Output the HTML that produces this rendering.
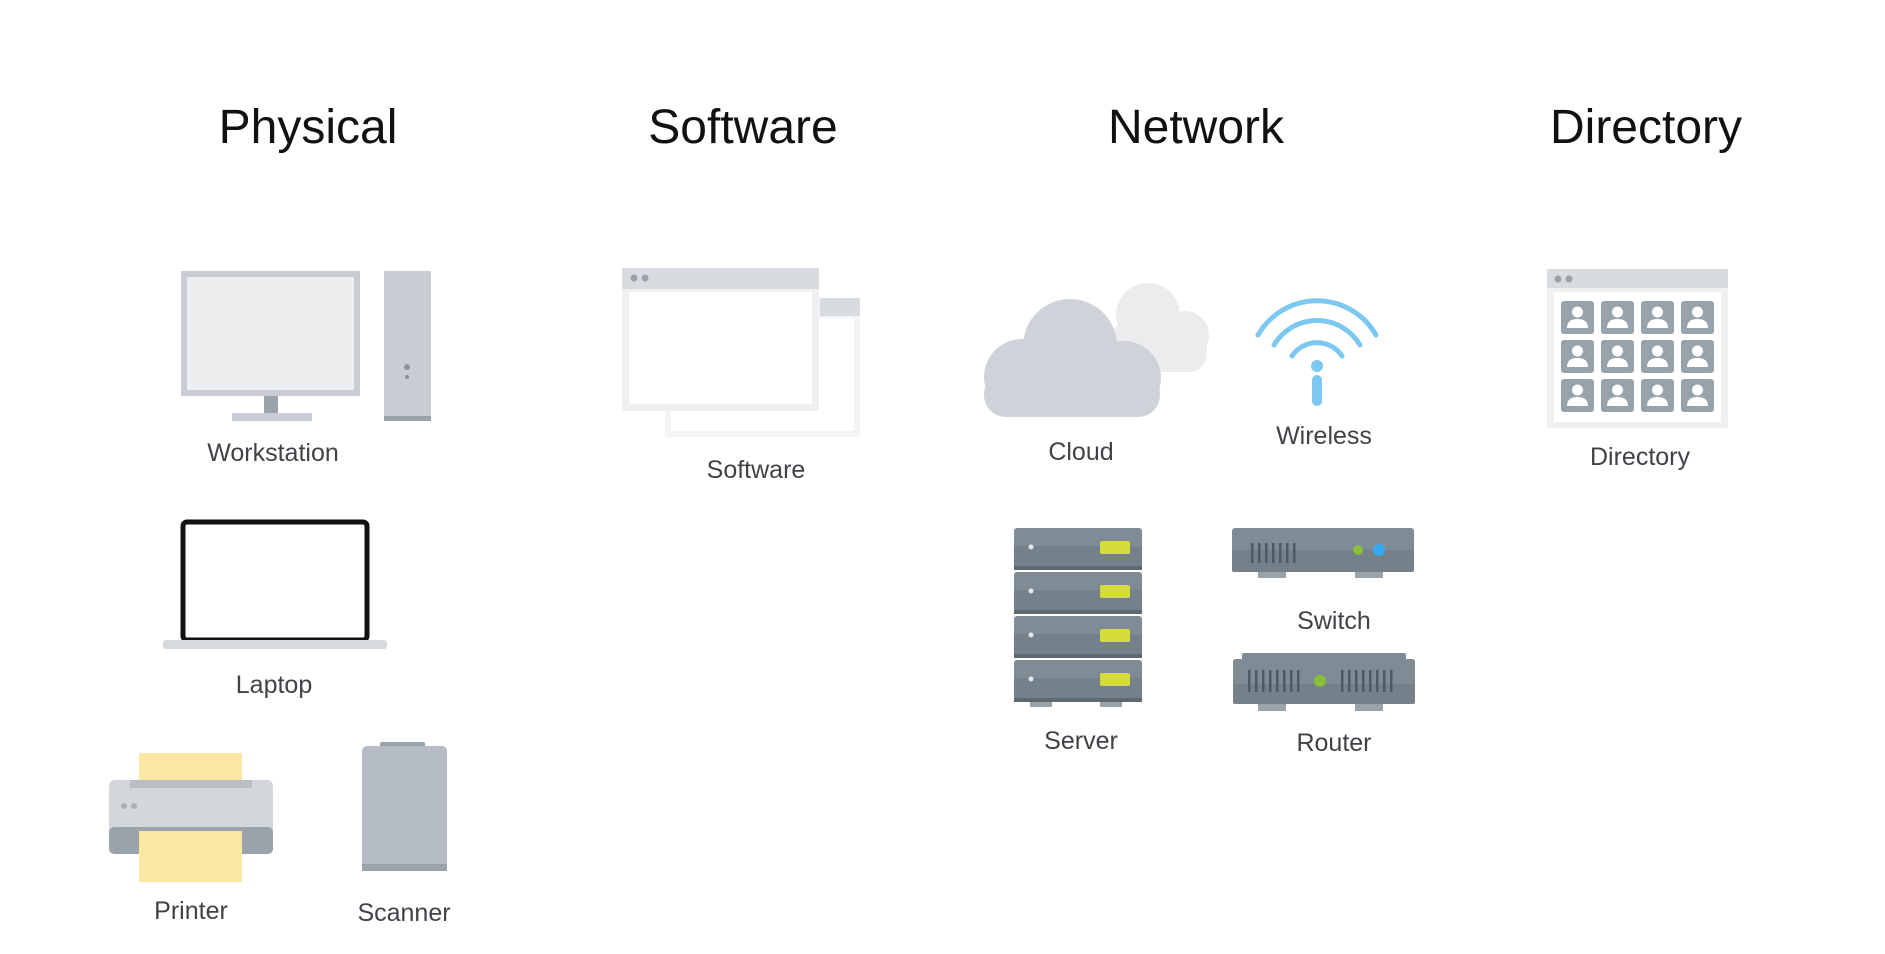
<!DOCTYPE html>
<html><head><meta charset="utf-8"><style>
html,body{margin:0;padding:0;background:#fff;}
svg{display:block}
.h{font-family:"Liberation Sans",sans-serif;font-size:48px;fill:#111;text-anchor:middle}
.l{font-family:"Liberation Sans",sans-serif;font-size:25px;fill:#3f4347;text-anchor:middle}
</style></head><body>
<svg width="1885" height="954" viewBox="0 0 1885 954" xmlns="http://www.w3.org/2000/svg">
<defs>
<g id="t">
<rect x="0" y="0" width="33" height="33" rx="3" fill="#97a2aa"/>
<circle cx="16.5" cy="11" r="5.5" fill="#fff"/>
<path d="M6,27 Q6,18 16.5,18 Q27,18 27,27 Z" fill="#fff"/>
</g>
<g id="su">
<rect x="0" y="0" width="128" height="42" rx="3" fill="#7f8c96"/>
<rect x="0" y="18" width="128" height="24" rx="2" fill="#74808a"/>
<rect x="0" y="38" width="128" height="4" fill="#5d6870"/>
<circle cx="17" cy="19" r="2.5" fill="#e6e9ec"/>
<rect x="86" y="13" width="30" height="13" rx="2" fill="#d3dc3a"/>
</g>
</defs>
<rect width="1885" height="954" fill="#fff"/>
<text class="h" x="308" y="143">Physical</text>
<text class="h" x="743" y="143">Software</text>
<text class="h" x="1196" y="143">Network</text>
<text class="h" x="1646" y="143">Directory</text>

<!-- Workstation -->
<rect x="181" y="271" width="179" height="125" fill="#c9cdd3"/>
<rect x="187" y="277" width="167" height="113" fill="#eceef0"/>
<rect x="264" y="396" width="14" height="17" fill="#9aa3aa"/>
<rect x="232" y="413" width="80" height="8" fill="#c9cdd3"/>
<rect x="384" y="271" width="47" height="150" fill="#c9cdd3"/>
<rect x="384" y="416" width="47" height="5" fill="#9aa3aa"/>
<circle cx="407" cy="367" r="3" fill="#8a9299"/>
<circle cx="407" cy="377" r="2" fill="#8a9299"/>
<text class="l" x="273" y="461">Workstation</text>

<!-- Laptop -->
<rect x="183" y="522" width="184" height="118" rx="4" fill="#fff" stroke="#111" stroke-width="5"/>
<rect x="163" y="640" width="224" height="9" rx="3" fill="#d6d9dd"/>
<text class="l" x="274" y="693">Laptop</text>

<!-- Printer -->
<rect x="139" y="753" width="103" height="30" fill="#fce6a4"/>
<rect x="109" y="780" width="164" height="60" rx="6" fill="#d3d7dc"/>
<rect x="130" y="780" width="122" height="8" fill="#b9bec4"/>
<rect x="109" y="827" width="164" height="27" rx="5" fill="#9aa3aa"/>
<circle cx="124" cy="806" r="3" fill="#a9b0b6"/><circle cx="134" cy="806" r="3" fill="#a9b0b6"/>
<rect x="139" y="831" width="103" height="51" fill="#fce6a4"/>
<text class="l" x="191" y="919">Printer</text>

<!-- Scanner -->
<rect x="380" y="742" width="45" height="6" rx="2" fill="#9aa3aa"/>
<rect x="362" y="746" width="85" height="124" rx="5" fill="#b6bcc3"/>
<rect x="362" y="864" width="85" height="7" fill="#9aa3aa"/>
<text class="l" x="404" y="921">Scanner</text>

<!-- Software -->
<rect x="665" y="298" width="195" height="139" fill="#f3f4f5"/>
<rect x="671" y="318" width="183" height="113" fill="#fff"/>
<rect x="820" y="298" width="40" height="18" fill="#d8dbdf"/>
<rect x="622" y="268" width="197" height="143" fill="#eef0f2"/>
<rect x="622" y="268" width="197" height="21" fill="#d8dbdf"/>
<rect x="629" y="292" width="183" height="112" fill="#fff"/>
<circle cx="634" cy="278" r="3.5" fill="#9aa3aa"/><circle cx="645" cy="278" r="3.5" fill="#9aa3aa"/>
<text class="l" x="756" y="478">Software</text>

<!-- Cloud -->
<g fill="#ececee">
<circle cx="1148" cy="315" r="32"/><circle cx="1185" cy="335" r="24"/><rect x="1112" y="320" width="95" height="52" rx="18"/>
</g>
<g fill="#cfd3d9">
<circle cx="1070" cy="346" r="47"/><circle cx="1022" cy="377" r="38"/><circle cx="1124" cy="378" r="37"/>
<rect x="984" y="372" width="176" height="45" rx="22"/>
</g>
<text class="l" x="1081" y="460">Cloud</text>

<!-- Wireless -->
<g fill="none" stroke="#7cc8f0" stroke-width="5" stroke-linecap="round">
<path d="M1258,335 A68,68 0 0 1 1376,335"/>
<path d="M1274,345 A50,50 0 0 1 1360,345"/>
<path d="M1292,356 A30,30 0 0 1 1342,356"/>
<line x1="1317" y1="380" x2="1317" y2="401" stroke-width="10"/>
</g>
<circle cx="1317" cy="366" r="6" fill="#7cc8f0"/>
<text class="l" x="1324" y="444">Wireless</text>

<!-- Directory -->
<rect x="1547" y="269" width="181" height="159" fill="#eef0f2"/>
<rect x="1547" y="269" width="181" height="19" fill="#d8dbdf"/>
<rect x="1554" y="292" width="167" height="130" fill="#fff"/>
<circle cx="1558" cy="279" r="3.5" fill="#9aa3aa"/><circle cx="1569" cy="279" r="3.5" fill="#9aa3aa"/>
<use href="#t" x="1561" y="301"/><use href="#t" x="1601" y="301"/><use href="#t" x="1641" y="301"/><use href="#t" x="1681" y="301"/>
<use href="#t" x="1561" y="340"/><use href="#t" x="1601" y="340"/><use href="#t" x="1641" y="340"/><use href="#t" x="1681" y="340"/>
<use href="#t" x="1561" y="379"/><use href="#t" x="1601" y="379"/><use href="#t" x="1641" y="379"/><use href="#t" x="1681" y="379"/>
<text class="l" x="1640" y="465">Directory</text>

<!-- Server -->
<use href="#su" x="1014" y="528"/><use href="#su" x="1014" y="572"/><use href="#su" x="1014" y="616"/><use href="#su" x="1014" y="660"/>
<rect x="1030" y="702" width="22" height="5" fill="#9aa3aa"/><rect x="1100" y="702" width="22" height="5" fill="#9aa3aa"/>
<text class="l" x="1081" y="749">Server</text>

<!-- Switch -->
<rect x="1232" y="528" width="182" height="44" rx="3" fill="#7f8c96"/>
<rect x="1232" y="550" width="182" height="22" rx="2" fill="#74808a"/>
<g fill="#4e5961">
<rect x="1251" y="543" width="2.5" height="20"/><rect x="1258" y="543" width="2.5" height="20"/><rect x="1265" y="543" width="2.5" height="20"/><rect x="1272" y="543" width="2.5" height="20"/><rect x="1279" y="543" width="2.5" height="20"/><rect x="1286" y="543" width="2.5" height="20"/><rect x="1293" y="543" width="2.5" height="20"/>
</g>
<circle cx="1358" cy="550" r="5" fill="#8bbf3a"/><circle cx="1379" cy="550" r="6" fill="#33aaf0"/>
<rect x="1258" y="572" width="28" height="6" fill="#9aa3aa"/><rect x="1355" y="572" width="28" height="6" fill="#9aa3aa"/>
<text class="l" x="1334" y="629">Switch</text>

<!-- Router -->
<rect x="1242" y="653" width="164" height="8" rx="2" fill="#7f8c96"/>
<rect x="1233" y="659" width="182" height="45" rx="3" fill="#7f8c96"/>
<rect x="1233" y="684" width="182" height="20" rx="2" fill="#74808a"/>
<g fill="#4e5961">
<rect x="1248" y="670" width="2.5" height="22"/><rect x="1255" y="670" width="2.5" height="22"/><rect x="1262" y="670" width="2.5" height="22"/><rect x="1269" y="670" width="2.5" height="22"/><rect x="1276" y="670" width="2.5" height="22"/><rect x="1283" y="670" width="2.5" height="22"/><rect x="1290" y="670" width="2.5" height="22"/><rect x="1297" y="670" width="2.5" height="22"/>
<rect x="1341" y="670" width="2.5" height="22"/><rect x="1348" y="670" width="2.5" height="22"/><rect x="1355" y="670" width="2.5" height="22"/><rect x="1362" y="670" width="2.5" height="22"/><rect x="1369" y="670" width="2.5" height="22"/><rect x="1376" y="670" width="2.5" height="22"/><rect x="1383" y="670" width="2.5" height="22"/><rect x="1390" y="670" width="2.5" height="22"/>
</g>
<circle cx="1320" cy="681" r="6" fill="#8bbf3a"/>
<rect x="1258" y="704" width="28" height="7" fill="#9aa3aa"/><rect x="1355" y="704" width="28" height="7" fill="#9aa3aa"/>
<text class="l" x="1334" y="751">Router</text>
</svg>
</body></html>
